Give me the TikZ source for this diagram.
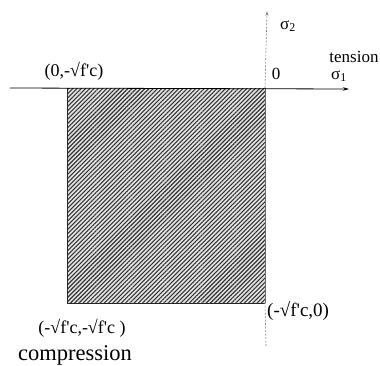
\documentclass[tikz,border=0pt]{standalone}
\usepackage{fontspec}
\setmainfont{Liberation Serif}
\usetikzlibrary{arrows.meta,patterns.meta}
\newcommand{\pr}{\textquotesingle}
\begin{document}
\begin{tikzpicture}[x=1pt,y=-1pt,
  axisline/.style={line width=0.8pt,-{Stealth[length=6pt,width=3.5pt]}},
  vaxis/.style={line width=0.6pt,gray,dash pattern=on 2pt off 1.5pt},
  edge/.style={line width=0.9pt,black!85},
  hatch/.style={pattern={Lines[angle=45,distance=3pt,line width=1.1pt]},pattern color=black!80},
  lbl/.style={inner sep=0pt,font=\fontsize{18}{20}\selectfont},
  sig/.style={inner sep=0pt,font=\fontsize{17}{19}\selectfont},
  big/.style={inner sep=0pt,font=\fontsize{22.5}{24}\selectfont}]
\useasboundingbox (0,0) rectangle (380,365);
% key points
\coordinate (hl) at (10,88);
\coordinate (hr) at (349,89);
\coordinate (vb) at (266,346);
\coordinate (vt) at (267,11);
\coordinate (tl) at (67,88);
\coordinate (tr) at (265,88);
\coordinate (br) at (265,303);
\coordinate (bl) at (67,303);
% hatched region
\fill[black!10] (tl) rectangle (br);
\fill[hatch] (tl) rectangle (br);
\draw[edge] (tl) -- (bl) -- (br);
% axes
\draw[vaxis] (vb) -- (br);
\draw[line width=0.6pt,gray!80!black] (br) -- (tr);
\draw[vaxis,-{Stealth[length=5pt,width=3pt]}] (tr) -- (vt);
\draw[axisline] (hl) -- (hr);
% labels
\node[lbl] (ltop) at (74,71) {(0,-√f\pr c)};
\node[sig] (lzero) at (276,74) {0};
\node[sig] (ls1) at (339,76) {σ\textsubscript{1}};
\node[sig] (lten) at (354,57) {tension};
\node[sig] (ls2) at (288,26) {σ\textsubscript{2}};
\node[lbl,anchor=west,font=\fontsize{19}{21}\selectfont] (lr) at (267,311) {(-√f\pr c,0)};
\node[lbl] (lbl2) at (82,328) {(-√f\pr c,-√f\pr c )};
\node[big] (lcomp) at (75,355) {compression};
\end{tikzpicture}
\end{document}
